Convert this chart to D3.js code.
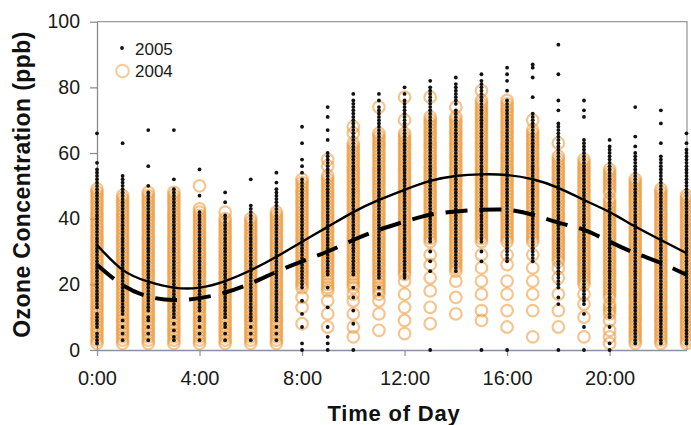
<!DOCTYPE html>
<html><head><meta charset="utf-8">
<script src="https://cdn.jsdelivr.net/npm/d3@7"></script>
<style>body{margin:0;background:#fff}svg{display:block}text{font-family:"Liberation Sans",Arial,sans-serif}</style>
</head><body><svg id="c" width="691" height="425"></svg>
<script>
// ---- data ----
const hours = [0,1,2,3,4,5,6,7,8,9,10,11,12,13,14,15,16,17,18,19,20,21,22,23];
const xTickHours = [0,4,8,12,16,20];
const xTickLabels = ["0:00","4:00","8:00","12:00","16:00","20:00"];
const yTicks = [0,20,40,60,80,100];
const seriesNames = ["2005","2004"];
const xTitle = "Time of Day";
const yTitle = "Ozone Concentration (ppb)";

// 2005 hourly ozone observations (ppb), one list per hour
const ozone2005 = [
[2,3,4,5,7,8,9,10,11,13,14,15,16,17,18,19,20,21,22,23,24,25,26,27,28,29,30,31,32,33,34,35,36,37,38,39,40,41,42,43,44,45,46,47,48,49,50,51,52,53,54,55,57,66],
[3,5,7,9,11,12,13,14,15,16,17,18,19,20,21,22,23,24,25,26,27,28,29,30,31,32,33,34,35,36,37,38,39,40,41,42,43,44,45,46,47,48,49,50,51,52,53,63],
[3,5,7,9,10,12,13,14,15,16,17,18,19,20,21,22,23,24,25,26,27,28,29,30,31,32,33,34,35,36,37,38,39,40,41,42,43,44,45,46,47,48,50,56,67],
[3,4,6,8,10,11,12,13,14,15,16,17,18,19,20,21,22,23,24,25,26,27,28,29,30,31,32,33,34,35,36,37,38,39,40,41,42,43,44,45,46,47,48,49,52,67],
[3,5,7,9,10,12,13,14,15,16,17,18,19,20,21,22,23,24,25,26,27,28,29,30,31,32,33,34,35,36,37,38,39,40,41,42,47,55],
[3,5,7,8,10,11,12,13,14,15,16,17,18,19,20,21,22,23,24,25,26,27,28,29,30,31,32,33,34,35,36,37,38,39,40,41,45,48],
[3,5,7,9,10,11,12,13,14,15,16,17,18,19,20,21,22,23,24,25,26,27,28,29,30,31,32,33,34,35,36,37,38,39,40,41,42,43,44,52],
[3,5,7,9,10,11,12,13,14,15,16,17,18,19,20,21,22,23,24,25,26,27,28,29,30,31,32,33,34,35,36,37,38,39,40,41,42,43,44,45,46,47,48,49,51,54],
[0,2,7,11,15,19,20,21,22,23,24,25,26,27,28,29,30,31,32,33,34,35,36,37,38,39,40,41,42,43,44,45,46,47,48,49,50,51,52,54,56,58,63,68],
[0,2,4,7,13,19,23,24,25,26,27,28,29,30,31,32,33,34,35,36,37,38,39,40,41,42,43,44,45,46,47,48,49,50,51,52,53,54,55,56,57,58,59,60,64,67,71,74],
[0,8,12,16,19,23,24,25,26,27,28,29,30,31,32,33,34,35,36,37,38,39,40,41,42,43,44,45,46,47,48,49,50,51,52,53,54,55,56,57,58,59,60,61,62,63,64,65,66,67,68,69,70,71,72,73,74,75,76,78],
[17,19,22,23,24,25,26,27,28,29,30,31,32,33,34,35,36,37,38,39,40,41,42,43,44,45,46,47,48,49,50,51,52,53,54,55,56,57,58,59,60,61,62,63,64,65,66,67,68,69,70,71,72,73,74,76,78],
[22,23,24,25,26,27,28,29,30,31,32,33,34,35,36,37,38,39,40,41,42,43,44,45,46,47,48,49,50,51,52,53,54,55,56,57,58,59,60,61,62,63,64,65,66,67,68,69,70,71,72,73,74,75,76,78,80],
[0,24,27,30,33,34,35,36,37,38,39,40,41,42,43,44,45,46,47,48,49,50,51,52,53,54,55,56,57,58,59,60,61,62,63,64,65,66,67,68,69,70,71,72,73,74,75,76,77,78,79,80,82],
[24,25,26,27,28,29,30,31,32,33,34,35,36,37,38,39,40,41,42,43,44,45,46,47,48,49,50,51,52,53,54,55,56,57,58,59,60,61,62,63,64,65,66,67,68,69,70,71,72,73,75,76,77,78,79,80,81,83],
[0,27,30,33,34,35,36,37,38,39,40,41,42,43,44,45,46,47,48,49,50,51,52,53,54,55,56,57,58,59,60,61,62,63,64,65,66,67,68,69,70,71,72,73,74,75,76,77,78,79,80,81,82,84],
[0,27,28,29,30,31,32,33,34,35,36,37,38,39,40,41,42,43,44,45,46,47,48,49,50,51,52,53,54,55,56,57,58,59,60,61,62,63,64,65,66,67,68,69,70,71,72,73,74,75,76,79,82,84,86],
[27,28,29,30,31,32,33,34,35,36,37,38,39,40,41,42,43,44,45,46,47,48,49,50,51,52,53,54,55,56,57,58,59,60,61,62,63,64,65,66,67,68,69,70,71,72,77,83,86,87],
[0,14,16,19,20,21,22,23,24,25,26,27,28,29,30,31,32,33,34,35,36,37,38,39,40,41,42,43,44,45,46,47,48,49,50,51,52,53,54,55,56,57,58,59,60,61,62,63,64,65,66,67,68,69,73,76,84,93],
[0,7,11,14,15,16,17,18,19,20,21,22,23,24,25,26,27,28,29,30,31,32,33,34,35,36,37,38,39,40,41,42,43,44,45,46,47,48,49,50,51,52,53,54,55,56,57,58,59,60,61,62,63,64,71,73,76],
[0,2,7,10,11,12,13,14,15,16,17,18,19,20,21,22,23,24,25,26,27,28,29,30,31,32,33,34,35,36,37,38,39,40,41,42,43,44,45,46,47,48,49,50,51,52,53,54,55,56,57,58,59,60,61,62,64],
[2,3,4,5,6,7,8,9,10,11,12,13,14,15,16,17,18,19,20,21,22,23,24,25,26,27,28,29,30,31,32,33,34,35,36,37,38,39,40,41,42,43,44,45,46,47,48,49,50,51,52,53,54,55,56,57,58,59,60,62,65,74],
[2,3,4,5,6,7,8,9,10,11,12,13,14,15,16,17,18,19,20,21,22,23,24,25,26,27,28,29,30,31,32,33,34,35,36,37,38,39,40,41,42,43,44,45,46,47,48,49,50,51,52,53,54,55,56,57,58,59,63,69,73],
[2,3,4,5,6,7,8,9,10,11,12,13,14,15,16,17,18,19,20,21,22,23,24,25,26,27,28,29,30,31,32,33,34,35,36,37,38,39,40,41,42,43,44,45,46,47,48,49,50,51,52,53,54,55,56,57,58,59,60,61,63,66]
];

// 2004 hourly ozone observations (ppb), one list per hour
const ozone2004 = [
[2,3,4,5,6,7,8,9,10,11,12,13,14,15,16,17,18,19,20,21,22,23,24,25,26,27,28,29,30,31,32,33,34,35,36,37,38,39,40,41,42,43,44,45,46,47,48,49],
[2,3,4,5,6,7,8,9,10,11,12,13,14,15,16,17,18,19,20,21,22,23,24,25,26,27,28,29,30,31,32,33,34,35,36,37,38,39,40,41,42,43,44,45,46,47],
[2,3,4,5,6,7,8,9,10,11,12,13,14,15,16,17,18,19,20,21,22,23,24,25,26,27,28,29,30,31,32,33,34,35,36,37,38,39,40,41,42,43,44,45,46,47,48],
[2,3,4,5,6,7,8,9,10,11,12,13,14,15,16,17,18,19,20,21,22,23,24,25,26,27,28,29,30,31,32,33,34,35,36,37,38,39,40,41,42,43,44,45,46,47,48],
[2,3,4,5,6,7,8,9,10,11,12,13,14,15,16,17,18,19,20,21,22,23,24,25,26,27,28,29,30,31,32,33,34,35,36,37,38,39,40,41,42,43,50],
[2,3,4,5,6,7,8,9,10,11,12,13,14,15,16,17,18,19,20,21,22,23,24,25,26,27,28,29,30,31,32,33,34,35,36,37,38,39,40,42],
[2,3,4,5,6,7,8,9,10,11,12,13,14,15,16,17,18,19,20,21,22,23,24,25,26,27,28,29,30,31,32,33,34,35,36,37,38,39,40],
[2,3,4,5,6,7,8,9,10,11,12,13,14,15,16,17,18,19,20,21,22,23,24,25,26,27,28,29,30,31,32,33,34,35,36,37,38,39,40,41,42],
[8,13,16,19,20,21,22,23,24,25,26,27,28,29,30,31,32,33,34,35,36,37,38,39,40,41,42,43,44,45,46,47,48,49,50,51,52],
[7,11,15,18,19,20,21,22,23,24,25,26,27,28,29,30,31,32,33,34,35,36,37,38,39,40,41,42,43,44,45,46,47,48,49,50,51,52,53,56,58],
[4,7,11,15,17,19,20,21,22,23,24,25,26,27,28,29,30,31,32,33,34,35,36,37,38,39,40,41,42,43,44,45,46,47,48,49,50,51,52,53,54,55,56,57,58,59,60,61,62,63,66,68],
[6,11,15,17,18,19,20,21,22,23,24,25,26,27,28,29,30,31,32,33,34,35,36,37,38,39,40,41,42,43,44,45,46,47,48,49,50,51,52,53,54,55,56,57,58,59,60,61,62,63,64,65,66,74],
[5,9,13,17,21,23,24,25,26,27,28,29,30,31,32,33,34,35,36,37,38,39,40,41,42,43,44,45,46,47,48,49,50,51,52,53,54,55,56,57,58,59,60,61,62,63,64,65,66,70,77],
[8,13,18,22,26,29,33,34,35,36,37,38,39,40,41,42,43,44,45,46,47,48,49,50,51,52,53,54,55,56,57,58,59,60,61,62,63,64,65,66,67,68,69,70,71,77],
[11,16,21,24,25,26,27,28,29,30,31,32,33,34,35,36,37,38,39,40,41,42,43,44,45,46,47,48,49,50,51,52,53,54,55,56,57,58,59,60,61,62,63,64,65,66,67,68,69,70,71,74],
[9,12,17,21,25,29,33,34,35,36,37,38,39,40,41,42,43,44,45,46,47,48,49,50,51,52,53,54,55,56,57,58,59,60,61,62,63,64,65,66,67,68,69,70,71,72,73,74,75,76,79],
[7,12,17,21,26,29,33,34,35,36,37,38,39,40,41,42,43,44,45,46,47,48,49,50,51,52,53,54,55,56,57,58,59,60,61,62,63,64,65,66,67,68,69,70,71,72,73,74,75,76],
[4,12,17,21,25,29,33,34,35,36,37,38,39,40,41,42,43,44,45,46,47,48,49,50,51,52,53,54,55,56,57,58,59,60,61,62,63,64,65,66,67,70],
[7,12,17,22,25,27,28,29,30,31,32,33,34,35,36,37,38,39,40,41,42,43,44,45,46,47,48,49,50,51,52,53,54,55,56,57,58,59,63],
[4,10,14,17,20,21,22,23,24,25,26,27,28,29,30,31,32,33,34,35,36,37,38,39,40,41,42,43,44,45,46,47,48,49,50,51,52,53,54,55,56,57,58],
[2,4,6,9,11,12,13,14,16,17,18,19,20,21,22,23,24,25,26,27,28,29,30,31,32,33,34,35,36,37,38,39,40,41,42,43,44,45,46,48,49,50,51,52,53,54,55],
[2,3,4,5,6,7,8,9,10,11,12,13,14,15,16,17,18,19,20,21,22,23,24,25,26,27,28,29,30,31,32,33,34,35,36,37,38,39,40,41,42,43,44,45,46,47,48,49,50,51,52],
[2,3,4,5,6,7,8,9,10,11,12,13,14,15,16,17,18,19,20,21,22,23,24,25,26,27,28,29,30,31,32,33,34,35,36,37,38,39,40,41,42,43,44,45,46,47,48,49],
[2,3,4,5,6,7,8,9,10,11,12,13,14,15,16,17,18,19,20,21,22,23,24,25,26,27,28,29,30,31,32,33,34,35,36,37,38,39,40,41,42,43,44,45,46,47]
];

// fitted diurnal curves (ppb at each hour)
const fit2005 = [32,24.4,20.8,19,19,21,24.3,28.4,33,37.5,42,45.7,48.8,51.5,53,53.5,53.3,52,49.4,45.7,42,37.6,33.5,29.5];
const fit2004 = [26,19.8,16.3,15.2,15.8,17.5,20.3,23.8,27,30,33.5,36.6,39.1,41.2,42.2,42.7,42.7,41.2,38.8,36.6,33,29.5,26.5,22.9];

// ---- drawing ----
const svg = d3.select("#c");
const x = d3.scaleLinear().domain([0,23]).range([97,686.5]);
const y = d3.scaleLinear().domain([0,100]).range([350,21.7]);
const orange = "#EC9633";

// frame (top & right)
svg.append("path").attr("d",`M${x(0)},${y(100)}H${x(23)+0.5}V${y(0)}`)
  .attr("fill","none").attr("stroke","#9a9a9a").attr("stroke-width",1.3);

// axes
const yAxis = svg.append("g").attr("transform",`translate(${x(0)},0)`)
  .call(d3.axisLeft(y).tickValues(yTicks).tickSize(7).tickPadding(10).tickSizeOuter(0));
yAxis.select(".domain").attr("stroke","#8a8a8a").attr("stroke-width",1.3);
yAxis.selectAll(".tick line").attr("stroke","#8a8a8a").attr("stroke-width",1.2);
yAxis.selectAll("text").attr("font-size",19.5).attr("fill","#1a1a1a").style("font-family","'Liberation Sans',Arial,sans-serif");

const xAxis = svg.append("g").attr("transform",`translate(0,${y(0)})`)
  .call(d3.axisBottom(x).tickValues(xTickHours).tickFormat((d,i)=>xTickLabels[i]).tickSize(6).tickPadding(15).tickSizeOuter(0));
xAxis.select(".domain").attr("stroke","#8790a6").attr("stroke-width",1.3);
xAxis.selectAll(".tick line").attr("stroke","#8790a6").attr("stroke-width",1.2);
xAxis.selectAll("text").attr("font-size",20).attr("fill","#1a1a1a").style("font-family","'Liberation Sans',Arial,sans-serif");

// 2004 open circles
const pts04 = [], pts05 = [];
ozone2004.forEach((vals,h)=>vals.forEach(v=>pts04.push({h,v})));
ozone2005.forEach((vals,h)=>vals.forEach(v=>pts05.push({h,v})));
svg.append("g").selectAll("circle").data(pts04).join("circle")
  .attr("cx",d=>x(d.h)).attr("cy",d=>y(d.v)).attr("r",5.8)
  .attr("fill","none").attr("stroke",orange).attr("stroke-width",2.2).attr("stroke-opacity",0.55);

// 2005 dots
svg.append("g").selectAll("circle").data(pts05).join("circle")
  .attr("cx",d=>x(d.h)).attr("cy",d=>y(d.v)).attr("r",1.9).attr("fill","#111");

// fitted curves
const line = d3.line().x((d,i)=>x(hours[i])).y(d=>y(d)).curve(d3.curveNatural);
svg.append("path").attr("d",line(fit2004)).attr("fill","none").attr("stroke","#000")
  .attr("stroke-width",4).attr("stroke-dasharray","22,12");
svg.append("path").attr("d",line(fit2005)).attr("fill","none").attr("stroke","#000")
  .attr("stroke-width",2.4);

// legend
const lg = svg.append("g");
lg.append("circle").attr("cx",122).attr("cy",48).attr("r",1.9).attr("fill","#111");
lg.append("text").attr("x",135).attr("y",55).attr("font-size",17).attr("fill","#1a1a1a").text(seriesNames[0]);
lg.append("circle").attr("cx",122.5).attr("cy",71).attr("r",6.3).attr("fill","none").attr("stroke",orange).attr("stroke-width",2).attr("stroke-opacity",0.5);
lg.append("text").attr("x",135).attr("y",77).attr("font-size",17).attr("fill","#1a1a1a").text(seriesNames[1]);

// titles
svg.append("text").attr("x",394).attr("y",421).attr("text-anchor","middle")
  .attr("font-size",22).attr("font-weight","bold").attr("letter-spacing",0.8).attr("fill","#111").text(xTitle);
svg.append("text").attr("transform","translate(29.5,184.5) rotate(-90)").attr("text-anchor","middle")
  .attr("font-size",23).attr("font-weight","bold").attr("letter-spacing",0.4).attr("fill","#111").text(yTitle);
</script></body></html>
